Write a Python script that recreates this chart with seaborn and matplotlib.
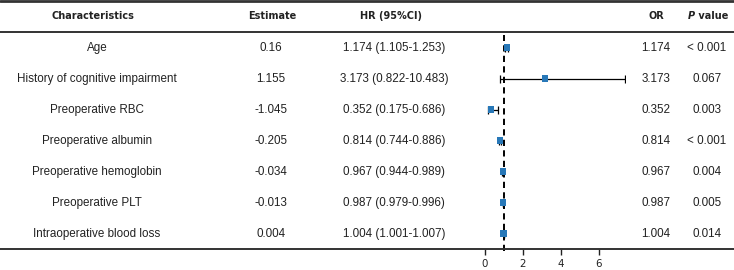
import matplotlib.pyplot as plt
import pandas as pd
import seaborn as sns

# table data
characteristics = [
    "Age",
    "History of cognitive impairment",
    "Preoperative RBC",
    "Preoperative albumin",
    "Preoperative hemoglobin",
    "Preoperative PLT",
    "Intraoperative blood loss",
]
estimates = ["0.16", "1.155", "-1.045", "-0.205", "-0.034", "-0.013", "0.004"]
hr = [1.174, 3.173, 0.352, 0.814, 0.967, 0.987, 1.004]
ci_low = [1.105, 0.822, 0.175, 0.744, 0.944, 0.979, 1.001]
ci_high = [1.253, 10.483, 0.686, 0.886, 0.989, 0.996, 1.007]
p_values = ["< 0.001", "0.067", "0.003", "< 0.001", "0.004", "0.005", "0.014"]
x_ticks = [0, 2, 4, 6]

W, H = 734, 270
XMAX = 7.4
body_font = ["Liberation Sans", "DejaVu Sans"]
head_font = ["DejaVu Sans"]

sns.set_theme(style="white")
plt.rcParams["font.family"] = body_font

df = pd.DataFrame({"name": characteristics, "hr": hr, "lo": ci_low, "hi": ci_high})
df["row"] = range(len(df))
df["hi_clip"] = df["hi"].clip(upper=XMAX)

fig = plt.figure(figsize=(W / 100, H / 100), dpi=100)


def fx(px):
    return px / W


def fy(py):
    return 1 - py / H


# forest axes: top at header rule, bottom at bottom rule
top_px, bot_px = 32, 249
left_px = 484.5 - 19 * 1.0
right_px = 484.5 + 19 * XMAX
ax = fig.add_axes([fx(left_px), fy(bot_px), fx(right_px - left_px), (bot_px - top_px) / H])
ax.set_xlim(-1.0, XMAX)
ax.set_ylim(len(df) - 0.5, -0.5)
ax.patch.set_alpha(0)
for s in ["top", "right", "left", "bottom"]:
    ax.spines[s].set_visible(False)
ax.set_yticks([])
ax.set_xticks(x_ticks)
ax.set_xticklabels([str(t) for t in x_ticks], fontsize=7.4, family=head_font, color="#222222")
ax.tick_params(axis="x", bottom=True, length=4.5, width=1, color="#222222", pad=3)

ax.axvline(1, ymin=-0.01, ymax=0.985, color="black", lw=1.4, ls=(0, (3.2, 2.2)), clip_on=False, zorder=1)

ax.errorbar(
    df["hr"], df["row"],
    xerr=[df["hr"] - df["lo"], df["hi_clip"] - df["hr"]],
    fmt="none", ecolor="black", elinewidth=0.9, capsize=2.6, capthick=0.9, zorder=2,
)
sns.scatterplot(
    data=df, x="hr", y="row", ax=ax, marker="s", s=20, color="#2878b8",
    edgecolor="none", zorder=3, legend=False,
)
ax.set_xlabel("")
ax.set_ylabel("")

# horizontal rules
for py, lw in [(1, 2.0), (32, 1.4), (249, 1.4)]:
    fig.add_artist(plt.Line2D([0, 1], [fy(py), fy(py)], color="#333333", lw=lw, transform=fig.transFigure))

# header
hy = fy(16)
hsize = 7.0
hkw = dict(fontsize=hsize, fontweight="bold", family=head_font, va="center", ha="center", color="#222222")
fig.text(fx(93), hy, "Characteristics", **hkw)
fig.text(fx(272), hy, "Estimate", **hkw)
fig.text(fx(391), hy, "HR (95%CI)", **hkw)
fig.text(fx(656), hy, "OR", **hkw)
p_txt = fig.text(fx(688), hy, "P", fontsize=hsize, fontweight="bold", style="italic", family=head_font,
                 va="center", ha="left", color="#222222")
ax.annotate(" value", xy=(1, 0.5), xycoords=p_txt, va="center", ha="left",
            fontsize=hsize, fontweight="bold", family=head_font, color="#222222", annotation_clip=False)

# body rows
bkw = dict(fontsize=8.4, va="center", ha="center", color="#222222")
for i, name in enumerate(characteristics):
    ry = fy(48 + 31 * i)
    ci_text = f"{hr[i]:.3f} ({ci_low[i]:.3f}-{ci_high[i]:.3f})"
    fig.text(fx(97), ry, name, **bkw)
    fig.text(fx(271), ry, estimates[i], **bkw)
    fig.text(fx(394), ry, ci_text, **bkw)
    fig.text(fx(656), ry, f"{hr[i]:.3f}", **bkw)
    fig.text(fx(707), ry, p_values[i], **bkw)

fig.savefig("out.png", dpi=100)
